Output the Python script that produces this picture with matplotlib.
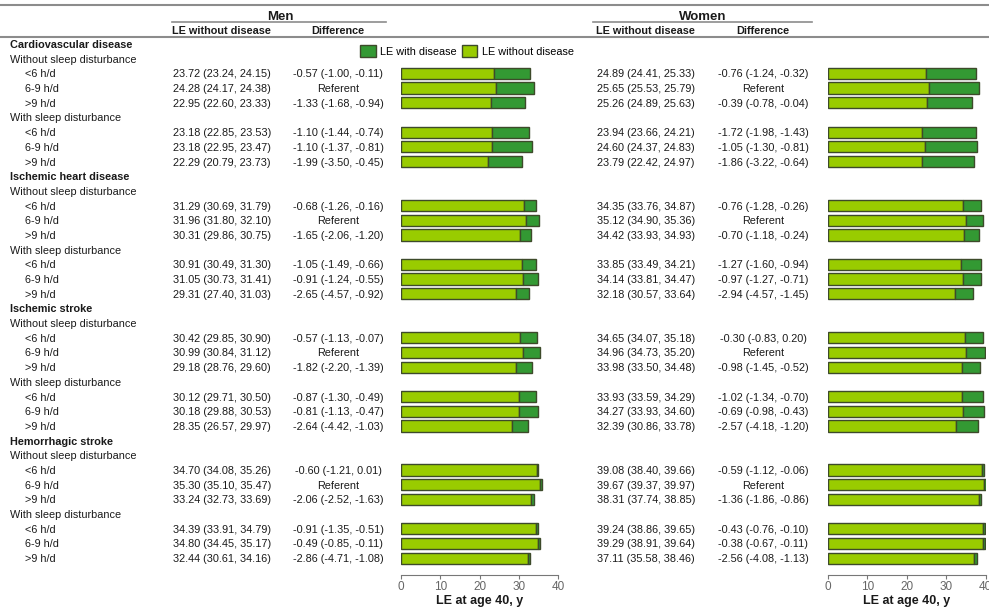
import matplotlib
matplotlib.use("Agg")
import matplotlib.pyplot as plt
import numpy as np

plt.rcParams['font.family'] = ['Liberation Sans', 'DejaVu Sans']

diseases = ["Cardiovascular disease", "Ischemic heart disease", "Ischemic stroke", "Hemorrhagic stroke"]
groups = ["Without sleep disturbance", "With sleep disturbance"]
durations = ["<6 h/d", "6-9 h/d", ">9 h/d"]

# LE without disease (point estimate, lower, upper) - men
men_le = [23.72, 24.28, 22.95, 23.18, 23.18, 22.29,
          31.29, 31.96, 30.31, 30.91, 31.05, 29.31,
          30.42, 30.99, 29.18, 30.12, 30.18, 28.35,
          34.70, 35.30, 33.24, 34.39, 34.80, 32.44]
men_lo = [23.24, 24.17, 22.60, 22.85, 22.95, 20.79,
          30.69, 31.80, 29.86, 30.49, 30.73, 27.40,
          29.85, 30.84, 28.76, 29.71, 29.88, 26.57,
          34.08, 35.10, 32.73, 33.91, 34.45, 30.61]
men_hi = [24.15, 24.38, 23.33, 23.53, 23.47, 23.73,
          31.79, 32.10, 30.75, 31.30, 31.41, 31.03,
          30.90, 31.12, 29.60, 30.50, 30.53, 29.97,
          35.26, 35.47, 33.69, 34.79, 35.17, 34.16]
men_diff = ["-0.57 (-1.00, -0.11)", "Referent", "-1.33 (-1.68, -0.94)",
            "-1.10 (-1.44, -0.74)", "-1.10 (-1.37, -0.81)", "-1.99 (-3.50, -0.45)",
            "-0.68 (-1.26, -0.16)", "Referent", "-1.65 (-2.06, -1.20)",
            "-1.05 (-1.49, -0.66)", "-0.91 (-1.24, -0.55)", "-2.65 (-4.57, -0.92)",
            "-0.57 (-1.13, -0.07)", "Referent", "-1.82 (-2.20, -1.39)",
            "-0.87 (-1.30, -0.49)", "-0.81 (-1.13, -0.47)", "-2.64 (-4.42, -1.03)",
            "-0.60 (-1.21, 0.01)", "Referent", "-2.06 (-2.52, -1.63)",
            "-0.91 (-1.35, -0.51)", "-0.49 (-0.85, -0.11)", "-2.86 (-4.71, -1.08)"]
men_total = [32.8, 33.8, 31.6, 32.6, 33.3, 30.9,
             34.5, 35.2, 33.2, 34.3, 34.8, 32.5,
             34.7, 35.5, 33.4, 34.4, 34.9, 32.3,
             35.0, 35.8, 33.8, 34.8, 35.4, 32.8]

women_le = [24.89, 25.65, 25.26, 23.94, 24.60, 23.79,
            34.35, 35.12, 34.42, 33.85, 34.14, 32.18,
            34.65, 34.96, 33.98, 33.93, 34.27, 32.39,
            39.08, 39.67, 38.31, 39.24, 39.29, 37.11]
women_lo = [24.41, 25.53, 24.89, 23.66, 24.37, 22.42,
            33.76, 34.90, 33.93, 33.49, 33.81, 30.57,
            34.07, 34.73, 33.50, 33.59, 33.93, 30.86,
            38.40, 39.37, 37.74, 38.86, 38.91, 35.58]
women_hi = [25.33, 25.79, 25.63, 24.21, 24.83, 24.97,
            34.87, 35.36, 34.93, 34.21, 34.47, 33.64,
            35.18, 35.20, 34.48, 34.29, 34.60, 33.78,
            39.66, 39.97, 38.85, 39.65, 39.64, 38.46]
women_diff = ["-0.76 (-1.24, -0.32)", "Referent", "-0.39 (-0.78, -0.04)",
              "-1.72 (-1.98, -1.43)", "-1.05 (-1.30, -0.81)", "-1.86 (-3.22, -0.64)",
              "-0.76 (-1.28, -0.26)", "Referent", "-0.70 (-1.18, -0.24)",
              "-1.27 (-1.60, -0.94)", "-0.97 (-1.27, -0.71)", "-2.94 (-4.57, -1.45)",
              "-0.30 (-0.83, 0.20)", "Referent", "-0.98 (-1.45, -0.52)",
              "-1.02 (-1.34, -0.70)", "-0.69 (-0.98, -0.43)", "-2.57 (-4.18, -1.20)",
              "-0.59 (-1.12, -0.06)", "Referent", "-1.36 (-1.86, -0.86)",
              "-0.43 (-0.76, -0.10)", "-0.38 (-0.67, -0.11)", "-2.56 (-4.08, -1.13)"]
women_total = [37.5, 38.2, 36.6, 37.5, 37.8, 37.1,
               38.7, 39.4, 38.2, 38.8, 38.9, 36.7,
               39.4, 39.9, 38.6, 39.4, 39.6, 38.0,
               39.5, 40.2, 38.8, 39.7, 39.9, 37.7]

light = "#99CC00"
dark = "#339933"
edge = "#3d4a2a"
txt = "#1a1a1a"
line_c = "#8c8c8c"
fs = 7.8

W, H = 989, 607
fig = plt.figure(figsize=(W / 100, H / 100), dpi=100)

# layout in pixels
row0, pitch = 44.0, 14.69
ax_top, ax_bot = 37.0, 575.0

# build row structure
rows = []  # (kind, label, data index)
k = 0
for d in diseases:
    rows.append(("dis", d, None))
    for g in groups:
        rows.append(("grp", g, None))
        for dur in durations:
            rows.append(("dat", dur, k))
            k += 1
data_rows = [i for i, r in enumerate(rows) if r[0] == "dat"]

# text overlay in pixel coordinates
tab = fig.add_axes([0, 0, 1, 1])
tab.set_xlim(0, W)
tab.set_ylim(H, 0)
tab.axis("off")

def ypix(i):
    return row0 + i * pitch

va = "center_baseline"
for i, (kind, label, idx) in enumerate(rows):
    y = ypix(i)
    if kind == "dis":
        tab.text(10, y, label, fontsize=fs, fontweight="bold", va=va, color=txt)
    elif kind == "grp":
        tab.text(10, y, label, fontsize=fs, va=va, color=txt)
    else:
        tab.text(25, y, label, fontsize=fs, va=va, color=txt)
        tab.text(173, y, f"{men_le[idx]:.2f} ({men_lo[idx]:.2f}, {men_hi[idx]:.2f})",
                 fontsize=fs, va=va, color=txt)
        tab.text(338, y, men_diff[idx], fontsize=fs, va=va, ha="center", color=txt)
        tab.text(597, y, f"{women_le[idx]:.2f} ({women_lo[idx]:.2f}, {women_hi[idx]:.2f})",
                 fontsize=fs, va=va, color=txt)
        tab.text(763, y, women_diff[idx], fontsize=fs, va=va, ha="center", color=txt)

# headers
tab.plot([0, W], [5, 5], color=line_c, lw=1.5)
tab.plot([0, W], [37, 37], color=line_c, lw=1.5)
tab.plot([172, 386], [22, 22], color=line_c, lw=1.2)
tab.plot([593, 812], [22, 22], color=line_c, lw=1.2)
tab.text(280, 15, "Men", fontsize=9.5, fontweight="bold", ha="center", va=va, color=txt)
tab.text(703, 15, "Women", fontsize=9.5, fontweight="bold", ha="center", va=va, color=txt)
for cx, lab in [(221, "LE without disease"), (338, "Difference"),
                (645, "LE without disease"), (763, "Difference")]:
    tab.text(cx, 30, lab, fontsize=fs, fontweight="bold", ha="center", va=va, color=txt)

# bar panels
ylim = ((ax_bot - row0) / pitch, (ax_top - row0) / pitch)
panels = [(401, 558, men_le, men_total), (827.7, 985.7, women_le, women_total)]
handles = None
for x0, x1, le, tot in panels:
    ax = fig.add_axes([x0 / W, 1 - ax_bot / H, (x1 - x0) / W, (ax_bot - ax_top) / H])
    ax.patch.set_alpha(0)
    le = np.array(le)
    tot = np.array(tot)
    b1 = ax.barh(data_rows, le, height=0.76, color=light, edgecolor=edge, linewidth=1.0,
                 label="LE without disease")
    b2 = ax.barh(data_rows, tot - le, left=le, height=0.76, color=dark, edgecolor=edge,
                 linewidth=1.0, label="LE with disease")
    handles = [b2, b1]
    ax.set_xlim(0, 40)
    ax.set_ylim(*ylim)
    ax.set_yticks([])
    for s in ["top", "right", "left"]:
        ax.spines[s].set_visible(False)
    ax.spines["bottom"].set_color("#777777")
    ax.set_xticks([0, 10, 20, 30, 40])
    ax.tick_params(axis="x", colors="#777777", labelsize=8.5, length=3, pad=1.5,
                   labelcolor="#666666")
    ax.set_xlabel("LE at age 40, y", fontsize=9, fontweight="bold", color=txt, labelpad=1)

fig.legend(handles, ["LE with disease", "LE without disease"], loc="center",
           bbox_to_anchor=(467 / W, 1 - 51 / H), ncol=2, frameon=False, fontsize=fs,
           handlelength=1.4, handleheight=1.4, handletextpad=0.4, columnspacing=0.5)

fig.savefig("out.png", dpi=100, facecolor="white")
